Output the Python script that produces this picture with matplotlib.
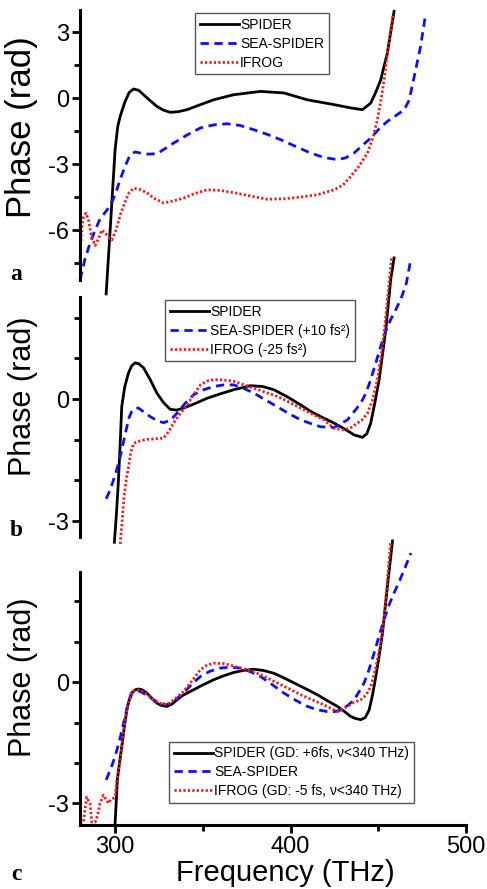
import matplotlib
matplotlib.use('Agg')
import matplotlib.pyplot as plt
from matplotlib.ticker import MultipleLocator

plt.rcParams['font.family'] = ['Liberation Sans', 'DejaVu Sans']
plt.rcParams['axes.unicode_minus'] = False

## panel a: raw phases
a_spider_x = [294.9, 297.5, 300.0, 301.5, 302.9, 305.5, 308.0, 310.5, 313.5, 316.2, 320.0, 323.8, 327.5, 331.4, 336.0,
              341.0, 348.0, 356.2, 367.6, 382.9, 396.2, 409.5, 424.8, 434.3, 441.0, 445.7, 448.5, 451.4, 455.2, 459.0]
a_spider_y = [-8.9, -5.6, -2.35, -1.3, -0.83, -0.2, 0.25, 0.41, 0.35, 0.15, -0.12, -0.38, -0.55, -0.65, -0.62,
              -0.53, -0.32, -0.08, 0.15, 0.30, 0.23, -0.08, -0.30, -0.45, -0.53, -0.23, 0.25, 0.83, 2.05, 3.94]
a_sea_x = [280.0, 282.9, 285.7, 288.6, 291.4, 294.3, 297.1, 300.0, 302.9, 305.7, 308.6, 311.4, 314.3, 319.0, 323.8,
           328.5, 333.3, 341.0, 348.6, 356.2, 363.8, 371.4, 379.0, 386.7, 394.3, 402.9, 411.4, 419.0, 426.7, 431.4,
           436.2, 441.0, 445.7, 450.5, 455.2, 460.0, 464.8, 467.6, 470.5, 474.0, 477.1]
a_sea_y = [-8.26, -7.3, -6.6, -6.0, -5.5, -5.2, -4.9, -4.4, -3.7, -3.1, -2.58, -2.45, -2.5, -2.55, -2.53,
           -2.3, -2.05, -1.68, -1.36, -1.22, -1.17, -1.25, -1.44, -1.65, -1.89, -2.2, -2.5, -2.7, -2.8, -2.72,
           -2.5, -2.15, -1.82, -1.4, -1.06, -0.8, -0.53, -0.1, 0.98, 2.3, 3.86]
a_ifrog_x = [280.0, 280.5, 281.5, 283.4, 285.0, 286.5, 288.6, 290.5, 292.4, 294.5, 296.5, 298.1, 300.5, 303.0, 305.5,
             308.0, 310.5, 314.0, 318.1, 322.0, 327.6, 333.0, 339.0, 345.0, 352.4, 360.0, 367.6, 377.0, 386.7, 396.0,
             405.7, 415.0, 424.8, 430.0, 434.3, 439.0, 443.8, 447.0, 449.5, 451.5, 453.3, 456.2, 458.6]
a_ifrog_y = [-7.5, -6.5, -5.5, -5.23, -5.6, -6.3, -6.7, -6.4, -6.0, -6.15, -6.35, -6.45, -6.0, -5.3, -4.75,
             -4.3, -4.1, -4.15, -4.3, -4.55, -4.77, -4.68, -4.55, -4.35, -4.17, -4.2, -4.3, -4.45, -4.6, -4.58,
             -4.5, -4.4, -4.17, -3.95, -3.56, -3.1, -2.5, -1.8, -0.98, -0.1, 0.83, 2.65, 3.86]

## panel b: GDD corrected
b_spider_x = [299.6, 300.8, 301.9, 302.9, 303.8, 305.5, 307.6, 309.5, 311.4, 313.5, 316.2, 320.0, 323.8, 327.5, 331.4,
              335.0, 339.0, 345.0, 352.4, 360.0, 367.6, 377.1, 384.0, 390.5, 398.0, 405.7, 411.0, 417.1, 423.0, 428.6,
              432.5, 436.2, 441.0, 443.5, 445.7, 448.0, 450.5, 454.3, 457.1, 459.0]
b_spider_y = [-3.52, -2.8, -2.0, -1.1, -0.18, 0.3, 0.64, 0.82, 0.89, 0.87, 0.77, 0.48, 0.15, -0.08, -0.25,
              -0.27, -0.22, -0.12, 0.02, 0.13, 0.23, 0.33, 0.31, 0.23, 0.06, -0.14, -0.29, -0.43, -0.55, -0.68,
              -0.78, -0.88, -0.94, -0.85, -0.59, -0.1, 0.48, 1.71, 2.95, 3.47]
b_sea_x = [294.9, 297.0, 299.0, 301.0, 302.9, 304.8, 306.7, 308.0, 309.5, 311.5, 313.3, 316.5, 320.0, 324.0, 327.6,
           331.5, 335.2, 340.0, 344.8, 350.5, 356.2, 362.0, 367.6, 373.0, 379.0, 384.5, 390.5, 398.0, 405.7, 411.5,
           417.1, 424.8, 432.4, 436.0, 440.0, 443.0, 445.7, 448.5, 451.4, 454.0, 457.1, 460.0, 462.9, 466.0, 468.6]
b_sea_y = [-2.45, -2.25, -2.0, -1.72, -1.42, -1.05, -0.68, -0.45, -0.3, -0.22, -0.22, -0.32, -0.43, -0.53, -0.58,
           -0.52, -0.35, -0.1, 0.11, 0.23, 0.31, 0.35, 0.35, 0.27, 0.15, 0.01, -0.14, -0.33, -0.51, -0.6,
           -0.68, -0.7, -0.51, -0.32, -0.1, 0.15, 0.48, 0.88, 1.3, 1.65, 1.96, 2.2, 2.46, 2.85, 3.45]
b_ifrog_x = [302.9, 304.0, 305.1, 306.3, 307.6, 309.0, 310.5, 312.4, 315.0, 318.1, 322.0, 325.0, 327.6, 330.5, 333.3,
             337.0, 341.0, 345.0, 348.6, 352.4, 356.2, 362.0, 367.6, 373.0, 379.0, 385.5, 392.4, 399.0, 405.7, 412.5,
             419.0, 424.8, 430.5, 434.5, 438.1, 441.0, 443.8, 446.5, 449.5, 451.5, 453.3, 456.2, 457.5]
b_ifrog_y = [-3.56, -3.0, -2.4, -2.0, -1.67, -1.3, -1.09, -1.05, -1.02, -0.99, -0.98, -0.97, -0.96, -0.8, -0.59,
             -0.36, -0.14, 0.12, 0.35, 0.44, 0.48, 0.47, 0.44, 0.36, 0.27, 0.17, 0.07, -0.07, -0.22, -0.37,
             -0.51, -0.72, -0.76, -0.7, -0.59, -0.5, -0.35, -0.05, 0.48, 1.05, 1.63, 2.87, 3.47]

## panel c: GD corrected below 340 THz
c_spider_x = [300.0, 301.3, 302.5, 303.8, 305.3, 306.7, 308.0, 309.5, 311.5, 313.3, 315.5, 318.1, 321.0, 323.8, 326.5,
              329.5, 332.5, 335.2, 338.5, 342.9, 349.5, 356.2, 362.0, 367.6, 373.0, 379.0, 384.5, 390.5, 396.0, 402.0,
              408.5, 415.2, 421.0, 426.7, 430.5, 434.3, 437.0, 440.0, 442.5, 444.8, 446.8, 448.6, 450.5, 452.4, 455.2,
              458.1]
c_spider_y = [-3.5, -2.42, -2.0, -1.6, -1.1, -0.69, -0.45, -0.27, -0.19, -0.17, -0.19, -0.27, -0.4, -0.52, -0.58,
              -0.6, -0.54, -0.44, -0.33, -0.23, -0.08, 0.06, 0.16, 0.24, 0.29, 0.32, 0.29, 0.22, 0.11, -0.02,
              -0.16, -0.31, -0.46, -0.6, -0.72, -0.85, -0.9, -0.93, -0.88, -0.69, -0.3, 0.14, 0.65, 1.21, 2.37,
              3.5]
c_sea_x = [294.9, 297.5, 300.0, 302.5, 304.8, 307.0, 309.5, 312.0, 314.3, 318.0, 321.9, 325.5, 329.5, 334.0, 339.0,
           343.5, 348.6, 354.0, 360.0, 365.5, 371.4, 377.0, 382.9, 389.5, 396.2, 403.0, 409.5, 415.0, 421.0, 425.0,
           428.6, 432.5, 436.2, 439.0, 441.9, 444.8, 447.6, 450.5, 453.3, 456.0, 459.0, 462.0, 464.8, 468.6]
c_sea_y = [-2.42, -2.15, -1.84, -1.45, -1.02, -0.6, -0.27, -0.22, -0.23, -0.32, -0.44, -0.52, -0.56, -0.45, -0.27,
           -0.06, 0.14, 0.27, 0.35, 0.37, 0.35, 0.26, 0.14, -0.06, -0.27, -0.45, -0.6, -0.68, -0.73, -0.73,
           -0.69, -0.58, -0.44, -0.24, -0.02, 0.32, 0.72, 1.15, 1.55, 1.9, 2.21, 2.5, 2.79, 3.2]
c_ifrog_x = [280.0, 281.9, 283.8, 285.7, 286.7, 288.6, 290.0, 291.4, 293.3, 294.8, 296.2, 297.7, 299.0, 300.0, 301.0,
             302.9, 304.3, 305.7, 307.5, 309.5, 312.0, 314.3, 318.0, 321.9, 325.5, 329.5, 334.0, 339.0, 344.0, 348.6,
             352.4, 356.2, 362.0, 367.6, 373.0, 379.0, 385.5, 392.4, 399.0, 405.7, 412.5, 419.0, 426.7, 432.4, 436.0,
             440.0, 443.0, 445.7, 448.5, 451.4, 453.3, 455.2, 457.1]
c_ifrog_y = [-3.5, -3.47, -2.85, -3.0, -3.47, -3.47, -3.3, -3.0, -2.8, -2.9, -3.0, -2.9, -2.88, -2.83, -2.43,
             -1.93, -1.4, -0.93, -0.5, -0.23, -0.2, -0.19, -0.3, -0.44, -0.52, -0.56, -0.42, -0.23, 0.04, 0.31,
             0.42, 0.47, 0.46, 0.4, 0.33, 0.26, 0.13, -0.02, -0.16, -0.31, -0.44, -0.56, -0.73, -0.6, -0.5,
             -0.44, -0.32, -0.11, 0.35, 0.97, 1.6, 2.54, 3.5]

labels_a = ['SPIDER', 'SEA-SPIDER', 'IFROG']
labels_b = ['SPIDER', 'SEA-SPIDER (+10 fs\u00b2)', 'IFROG (-25 fs\u00b2)']
labels_c = ['SPIDER (GD: +6fs, \u03bd<340 THz)', 'SEA-SPIDER', 'IFROG (GD: -5 fs, \u03bd<340 THz)']

BLUE = '#1010ee'
RED = '#ee1c1c'

fig = plt.figure(figsize=(4.87, 8.89), dpi=100)
left, width = 80 / 487, 386 / 487
ax_a = fig.add_axes([left, 1 - 280 / 889, width, 270 / 889])
ax_b = fig.add_axes([left, 1 - 537 / 889, width, 240 / 889])
ax_c = fig.add_axes([left, 1 - 825 / 889, width, 253 / 889])


def draw_panel(ax, data, labels):
    (sx, sy), (ex, ey), (ix, iy) = data
    ax.plot(sx, sy, color='black', lw=2.0, clip_on=False, label=labels[0])
    ax.plot(ex, ey, color=BLUE, lw=2.0, ls=(0, (3, 2)), clip_on=False, label=labels[1])
    ax.plot(ix, iy, color=RED, lw=2.0, ls=(0, (0.8, 0.8)), clip_on=False, label=labels[2])
    ax.set_xlim(280, 500)
    for s in ['top', 'right']:
        ax.spines[s].set_visible(False)
    ax.spines['left'].set_linewidth(2.2)
    ax.spines['bottom'].set_linewidth(2.2)
    ax.tick_params(axis='both', which='major', direction='out', length=6, width=2, labelsize=17, pad=2)
    ax.tick_params(axis='both', which='minor', direction='out', length=4, width=2)
    ax.set_ylabel('Phase (rad)', fontsize=22)


draw_panel(ax_a, [(a_spider_x, a_spider_y), (a_sea_x, a_sea_y), (a_ifrog_x, a_ifrog_y)], labels_a)
draw_panel(ax_b, [(b_spider_x, b_spider_y), (b_sea_x, b_sea_y), (b_ifrog_x, b_ifrog_y)], labels_b)
draw_panel(ax_c, [(c_spider_x, c_spider_y), (c_sea_x, c_sea_y), (c_ifrog_x, c_ifrog_y)], labels_c)

ax_a.set_ylim(-8.27, 4.0)
ax_a.yaxis.set_major_locator(MultipleLocator(3))
ax_a.yaxis.set_minor_locator(MultipleLocator(1.5))
ax_a.yaxis.label.set_fontsize(25)
ax_b.set_ylim(-3.39, 2.51)
ax_c.set_ylim(-3.54, 2.73)
for ax in [ax_b, ax_c]:
    ax.yaxis.set_major_locator(MultipleLocator(3))
    ax.yaxis.set_minor_locator(MultipleLocator(1))

for ax in [ax_a, ax_b]:
    ax.spines['bottom'].set_visible(False)
    ax.tick_params(axis='x', which='both', bottom=False, labelbottom=False)

ax_c.xaxis.set_major_locator(MultipleLocator(100))
ax_c.xaxis.set_minor_locator(MultipleLocator(50))
ax_c.set_xlabel('Frequency (THz)', fontsize=21)
ax_c.xaxis.set_label_coords(0.531, -0.133)

ax_a.yaxis.set_label_coords(-0.11, 0.565)
ax_b.yaxis.set_label_coords(-0.11, 0.585)
ax_c.yaxis.set_label_coords(-0.11, 0.585)

leg_kw = dict(fontsize=10, handlelength=2.8, handletextpad=0.1, labelspacing=0.35,
              fancybox=False, edgecolor='#555555', borderpad=0.35, borderaxespad=0, framealpha=1)
la = ax_a.legend(loc='upper left', bbox_to_anchor=(0.298, 0.989), **leg_kw)
lb = ax_b.legend(loc='upper left', bbox_to_anchor=(0.22, 0.9875), **leg_kw)
lc = ax_c.legend(loc='lower left', bbox_to_anchor=(0.2306, 0.087), **leg_kw)
for lg in [la, lb, lc]:
    lg.get_frame().set_linewidth(1.0)

# panel letters
for letter, ypx in [('a', 275), ('b', 530), ('c', 874)]:
    fig.text(16 / 487, 1 - ypx / 889, letter, fontsize=17, fontweight='bold',
             family=['Liberation Serif', 'DejaVu Serif'], ha='center', va='center')

fig.savefig('out.png', dpi=100)
